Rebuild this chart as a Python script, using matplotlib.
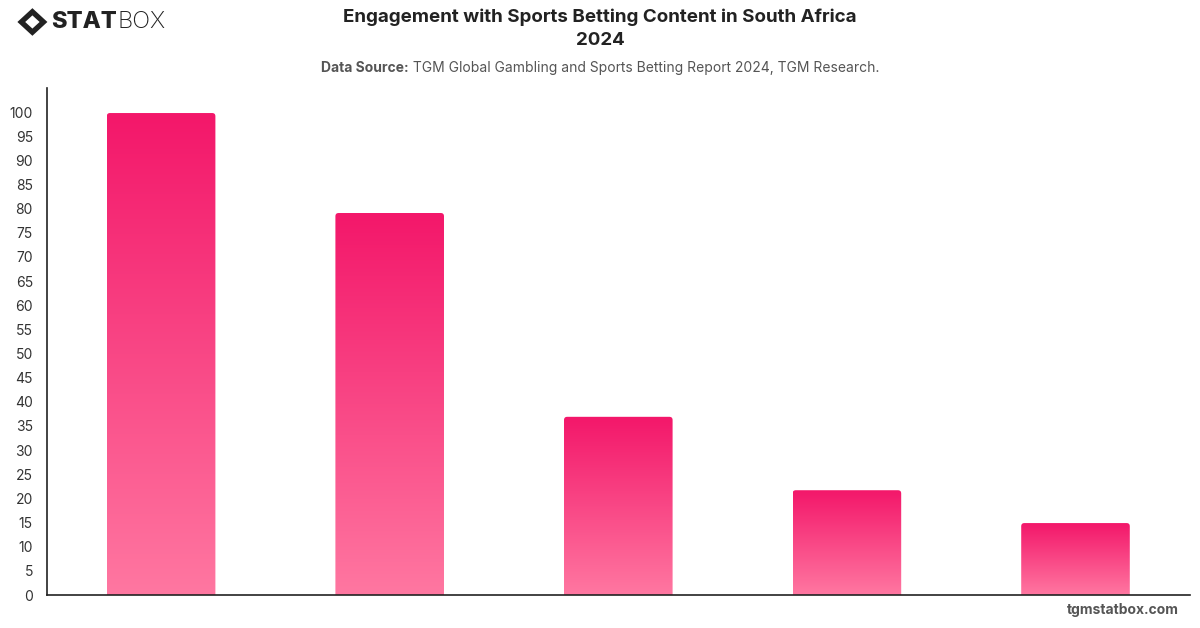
import numpy as np
import matplotlib.pyplot as plt
from matplotlib.patches import FancyBboxPatch, Polygon
from matplotlib.colors import LinearSegmentedColormap

plt.rcParams['font.family'] = ['Inter', 'DejaVu Sans']

categories = ['A', 'B', 'C', 'D', 'E']
values = [99.8, 79.1, 36.9, 21.7, 14.9]
yticks = list(range(0, 101, 5))

fig = plt.figure(figsize=(12, 6.28), dpi=100)
ax = fig.add_axes([0.039, 0.0525, 0.9525, 0.8075])

cmap = LinearSegmentedColormap.from_list('pink', ['#ff77a1', '#f3176a'])
grad = np.linspace(0, 1, 256).reshape(-1, 1)
width = 0.475
x = np.arange(len(categories))
for xi, v in zip(x, values):
    left = xi - width / 2
    patch = FancyBboxPatch((left, -5), width, v + 5,
                           boxstyle='round,pad=0,rounding_size=0.014',
                           mutation_aspect=47.3,
                           facecolor='none', edgecolor='none')
    ax.add_patch(patch)
    im = ax.imshow(grad, extent=[left, left + width, 0, v], origin='lower',
                   cmap=cmap, aspect='auto', zorder=2)
    im.set_clip_path(patch)

ax.set_xlim(-0.5, len(categories) - 0.5)
ax.set_ylim(0, 105)
ax.set_yticks(yticks)
ax.set_yticklabels([str(t) for t in yticks], fontsize=10, color='#333333')
ax.set_xticks([])
ax.tick_params(axis='y', length=0, pad=10)
for s in ['top', 'right']:
    ax.spines[s].set_visible(False)
ax.spines['left'].set_color('#222222')
ax.spines['bottom'].set_color('#222222')
ax.spines['left'].set_linewidth(1.2)
ax.spines['bottom'].set_linewidth(1.2)

fig.text(0.5, 0.972, 'Engagement with Sports Betting Content in South Africa', ha='center',
         va='center', fontsize=13.5, fontweight='bold', color='#222222')
fig.text(0.5, 0.935, '2024', ha='center', va='center', fontsize=13.5,
         fontweight='bold', color='#222222')

# subtitle: bold label + normal text, centred together
fig.canvas.draw()
r = fig.canvas.get_renderer()
t1 = fig.text(0, 0.892, 'Data Source:', ha='left', va='center', fontsize=10,
              fontweight='bold', color='#555555')
t2 = fig.text(0, 0.892, ' TGM Global Gambling and Sports Betting Report 2024, TGM Research.',
              ha='left', va='center', fontsize=10, color='#555555')
w1 = t1.get_window_extent(r).width / fig.bbox.width
w2 = t2.get_window_extent(r).width / fig.bbox.width
start = 0.5 - (w1 + w2) / 2
t1.set_x(start)
t2.set_x(start + w1)

fig.text(0.982, 0.018, 'tgmstatbox.com', ha='right', va='bottom', fontsize=10,
         fontweight='bold', color='#555555')

# logo
lx, ly = 0.027, 0.965
dia = Polygon([[lx - 0.0125, ly], [lx, ly + 0.022], [lx + 0.0125, ly], [lx, ly - 0.022]],
              closed=True, transform=fig.transFigure, facecolor='#222222', edgecolor='none')
fig.patches.append(dia)
inner = Polygon([[lx - 0.006, ly], [lx, ly + 0.0105], [lx + 0.006, ly], [lx, ly - 0.0105]],
                closed=True, transform=fig.transFigure, facecolor='white', edgecolor='none')
fig.patches.append(inner)
fig.text(0.043, 0.965, 'STAT', ha='left', va='center', fontsize=17, fontweight='heavy',
         color='#222222')
fig.text(0.0975, 0.965, 'BOX', ha='left', va='center', fontsize=17, fontweight='light',
         color='#222222')

fig.savefig('out.png', dpi=100)
